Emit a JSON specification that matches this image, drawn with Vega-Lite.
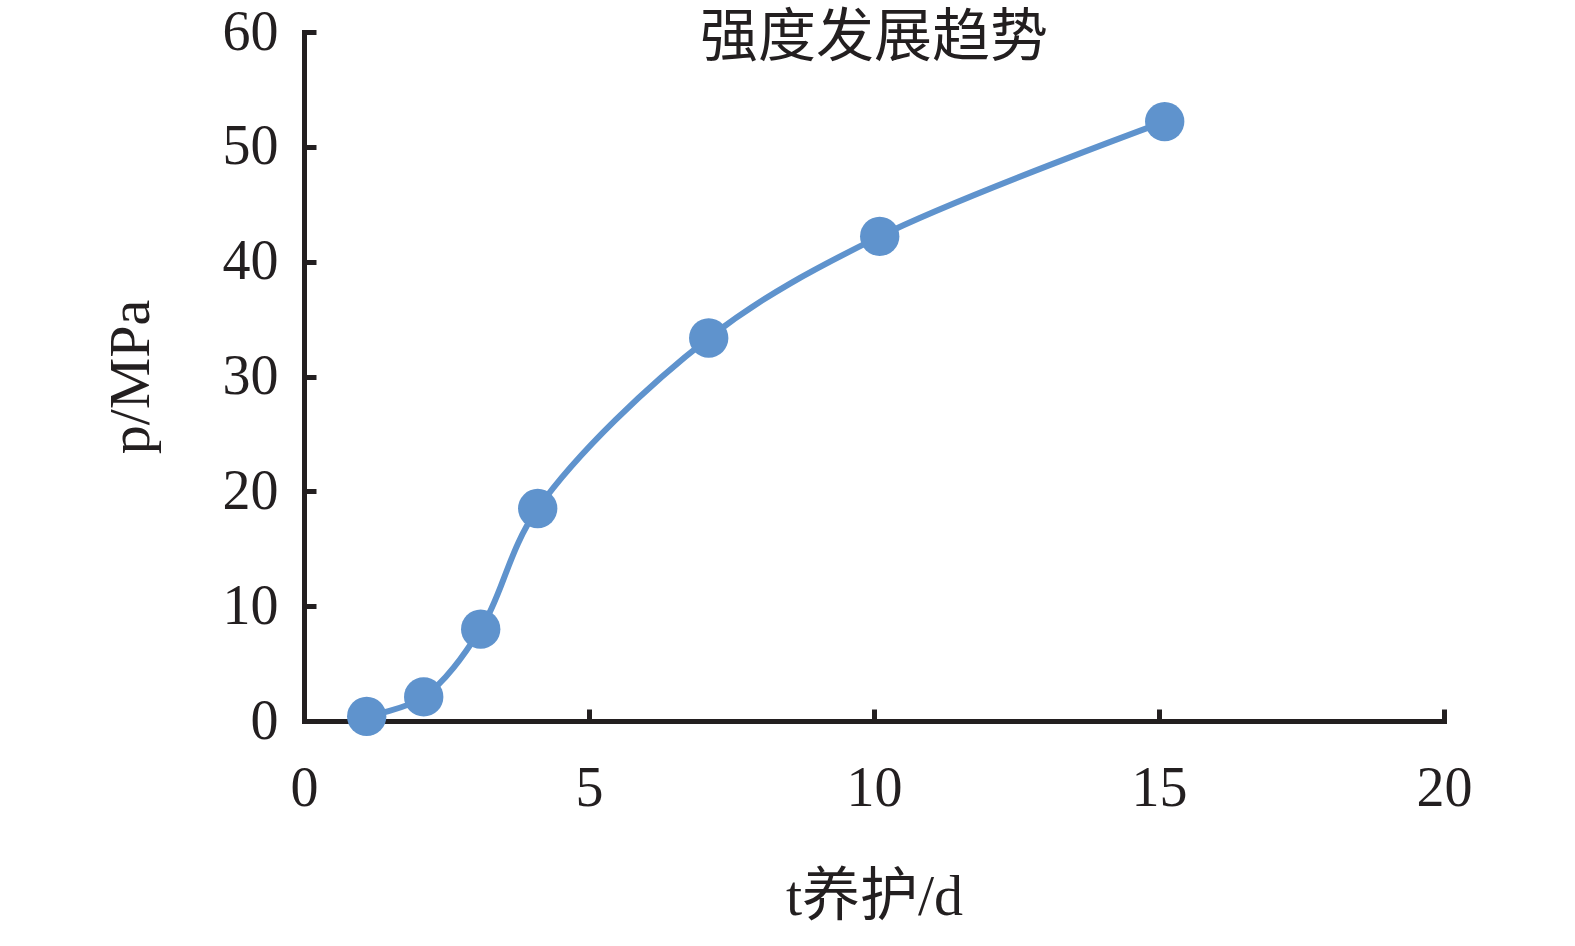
{
  "$schema": "https://vega.github.io/schema/vega-lite/v6.json",
  "autosize": {"type": "none"},
  "padding": {"left": 304, "top": 32, "right": 131, "bottom": 225},
  "width": 1140,
  "height": 689,
  "background": "white",
  "title": {
    "text": "强度发展趋势",
    "font": "Noto Sans CJK SC",
    "fontSize": 58,
    "fontWeight": "normal",
    "color": "#231f20",
    "anchor": "middle",
    "frame": "group",
    "baseline": "top",
    "offset": -64
  },
  "data": {
    "values": [
      {"t": 1.1, "p": 0.4},
      {"t": 2.1, "p": 2.1},
      {"t": 3.1, "p": 8.0},
      {"t": 4.1, "p": 18.5},
      {"t": 7.1, "p": 33.35},
      {"t": 10.1, "p": 42.2},
      {"t": 15.1, "p": 52.2}
    ]
  },
  "encoding": {
    "x": {
      "field": "t", "type": "quantitative",
      "scale": {"domain": [0, 20], "nice": false, "zero": false},
      "axis": {
        "title": "t养护/d",
        "values": [0, 5, 10, 15, 20],
        "grid": false,
        "labelFlush": false,
        "labelPadding": 52,
        "titlePadding": 52
      }
    },
    "y": {
      "field": "p", "type": "quantitative",
      "scale": {"domain": [0, 60], "nice": false},
      "axis": {
        "title": "p/MPa",
        "values": [0, 10, 20, 30, 40, 50, 60],
        "grid": false,
        "labelPadding": 38,
        "titlePadding": 62
      }
    }
  },
  "layer": [
    {
      "mark": {"type": "line", "interpolate": "catmull-rom", "color": "#5f93cd", "strokeWidth": 6}
    },
    {
      "mark": {"type": "point", "filled": true, "color": "#5f93cd", "opacity": 1, "size": 1550}
    }
  ],
  "config": {
    "view": {"stroke": null},
    "axis": {
      "domainColor": "#231f20",
      "domainWidth": 5,
      "domainCap": "square",
      "tickColor": "#231f20",
      "tickWidth": 5,
      "tickSize": -12,
      "labelFont": "Liberation Serif",
      "labelFontSize": 56,
      "labelColor": "#231f20",
      "titleFont": "Liberation Serif, Noto Sans CJK SC",
      "titleFontSize": 58,
      "titleFontWeight": "normal",
      "titleColor": "#231f20"
    }
  }
}
